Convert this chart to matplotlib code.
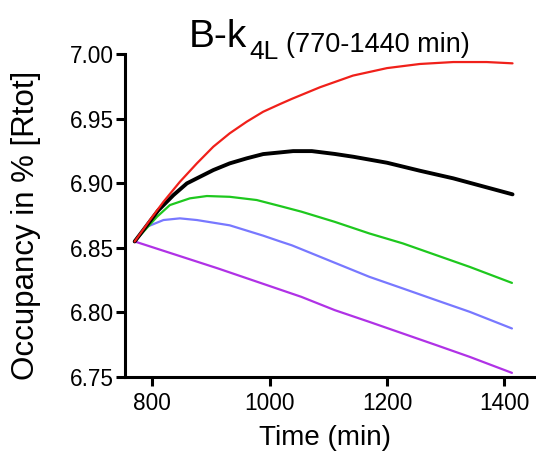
import numpy as np
import matplotlib
import matplotlib.pyplot as plt
matplotlib.use('Agg')

plt.rcParams['font.family'] = ['Liberation Sans', 'DejaVu Sans']

# time points (min) and occupancy (%) for each curve
red_t = [770, 796, 819, 847, 876, 904, 932, 961, 989, 1018, 1038, 1086, 1142, 1200, 1256, 1313, 1370, 1414]
red_y = [6.855, 6.8716, 6.8857, 6.9012, 6.9155, 6.9284, 6.9388, 6.9478, 6.9555, 6.9615, 6.9655, 6.9745, 6.9835,
         6.9893, 6.9925, 6.994, 6.994, 6.993]

black_t = [770, 810, 836, 859, 876, 904, 932, 961, 989, 1018, 1040, 1072, 1111, 1143, 1200, 1256, 1313, 1370, 1414]
black_y = [6.855, 6.879, 6.8909, 6.900, 6.9039, 6.9103, 6.9155, 6.9194, 6.9227, 6.924, 6.925, 6.925, 6.9228,
           6.9206, 6.916, 6.9098, 6.9039, 6.8969, 6.8915]

green_t = [770, 808, 830, 864, 893, 932, 978, 1018, 1054, 1111, 1170, 1227, 1284, 1341, 1413]
green_y = [6.855, 6.8741, 6.8832, 6.8884, 6.8902, 6.8896, 6.8871, 6.8824, 6.8781, 6.8702, 6.8612, 6.8535,
           6.8444, 6.8353, 6.8229]

blue_t = [770, 791, 819, 847, 876, 932, 989, 1018, 1038, 1111, 1170, 1227, 1284, 1341, 1413]
blue_y = [6.855, 6.8664, 6.8716, 6.8729, 6.8716, 6.8675, 6.8595, 6.855, 6.852, 6.8385, 6.8276, 6.8186,
          6.8095, 6.8005, 6.7876]

purple_t = [770, 912, 1054, 1111, 1170, 1227, 1284, 1341, 1413]
purple_y = [6.855, 6.8341, 6.8121, 6.8018, 6.7927, 6.7837, 6.7747, 6.7656, 6.7532]

x_ticks = [800, 1000, 1200, 1400]
y_ticks = [6.75, 6.80, 6.85, 6.90, 6.95, 7.00]

W, H = 536, 454
fig = plt.figure(figsize=(W / 100, H / 100), dpi=100)
ax = fig.add_axes([125 / W, 1 - 377 / H, 1 - 125 / W, (377 - 54.3) / H])

line_kw = dict(solid_joinstyle='round', solid_capstyle='round')
ax.plot(purple_t, purple_y, color='#b032e6', lw=1.6, **line_kw)
ax.plot(blue_t, blue_y, color='#7878ff', lw=1.6, **line_kw)
ax.plot(green_t, green_y, color='#1ec81e', lw=1.6, **line_kw)
ax.plot(black_t, black_y, color='black', lw=2.8, **line_kw)
ax.plot(red_t, red_y, color='#f0201a', lw=1.6, **line_kw)

ax.set_xlim(753.5, 1454)
ax.set_ylim(6.75, 7.00)
ax.set_xticks(x_ticks)
ax.set_yticks(y_ticks)
ax.set_yticklabels([f'{v:.2f}' for v in y_ticks])

for side in ['top', 'right']:
    ax.spines[side].set_visible(False)
for side in ['left', 'bottom']:
    ax.spines[side].set_linewidth(2.2)
ax.tick_params(axis='both', width=2.2, length=6.5, labelsize=16.3, colors='black')
ax.tick_params(axis='y', pad=1.5)
ax.tick_params(axis='x', pad=4)

ax.set_xlabel('Time (min)', fontsize=20)
ax.xaxis.label.set_va('baseline')
ax.xaxis.set_label_coords(0.487, -0.211)

ax.set_ylabel('Occupancy in % [Rtot]', fontsize=22.5)
ax.yaxis.label.set_va('baseline')
ax.yaxis.set_label_coords(-0.2226, 0.47)

# title pieces: main text, subscript, time window
fig.text(189 / W, 1 - 46.7 / H, 'B-k', fontsize=28, va='baseline')
fig.text(249 / W, 1 - 59 / H, '4L', fontsize=19, va='baseline')
fig.text(286 / W, 1 - 52 / H, '(770-1440 min)', fontsize=19.5, va='baseline')

plt.savefig('out.png', dpi=100)
plt.close('all')
